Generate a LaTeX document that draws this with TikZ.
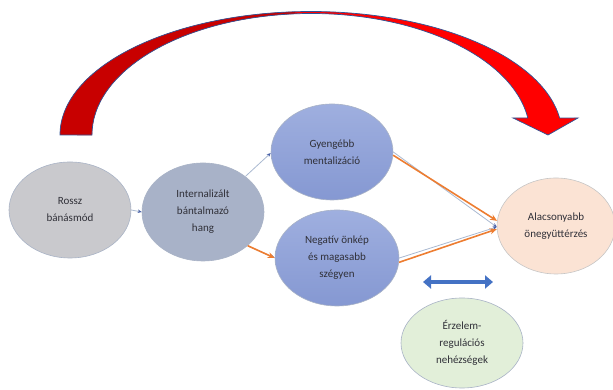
\documentclass[tikz,border=0pt]{standalone}
\usepackage{fontspec}
\setmainfont{Carlito}
\usetikzlibrary{shapes.geometric,arrows.meta}
\definecolor{txt}{HTML}{303038}
\definecolor{edgeg}{HTML}{A9B3C6}
\definecolor{rossfill}{HTML}{C9C9CD}
\definecolor{intfill}{HTML}{A8B2C8}
\definecolor{bluetop}{HTML}{9FAFDF}
\definecolor{bluebot}{HTML}{8598D2}
\definecolor{peach}{HTML}{FBE3D4}
\definecolor{lgreen}{HTML}{E2EFD9}
\definecolor{orangeA}{HTML}{ED7D31}
\definecolor{thinline}{HTML}{A9B8D0}
\definecolor{tipblue}{HTML}{4A62A8}
\definecolor{dblue}{HTML}{4472C4}
\definecolor{redL}{HTML}{C80000}
\definecolor{redR}{HTML}{FF0000}
\definecolor{outl}{HTML}{2F5597}
\tikzset{
  bubble/.style={ellipse, draw=edgeg, line width=0.6pt, inner sep=0pt, align=center,
    text=txt, font=\fontsize{11}{17}\selectfont},
  orangearrow/.style={draw=orangeA, line width=1.6pt, -{Stealth[length=7pt,width=6pt]}},
  thinarrow/.style={draw=thinline, line width=0.8pt, -{Stealth[length=4pt,width=3.5pt,color=tipblue]}},
}
\begin{document}
\begin{tikzpicture}[x=1pt,y=1pt]
\useasboundingbox (0,0) rectangle (613,390);
% big curved red arrow
\def\redpath{(60,255) arc[start angle=180,end angle=7.9,x radius=251,y radius=123.5]
  -- (578,272) -- (548,255) -- (513,272) -- (527.8,272)
  arc[start angle=8.05,end angle=180,x radius=219,y radius=121.5] -- cycle}
\fill[redR] \redpath;
\begin{scope}
  \clip (0,0) rectangle (295,390);
  \fill[redL] \redpath;
\end{scope}
\draw[outl, line width=0.7pt, line join=miter] \redpath;

% nodes
\node[bubble, fill=rossfill, minimum width=122pt, minimum height=96pt] (rossz) at (70,180) {Rossz\\bánásmód};
\node[bubble, fill=intfill, minimum width=122pt, minimum height=98pt] (intern) at (203,178) {Internalizált\\bántalmazó\\hang};
\node[bubble, top color=bluetop, bottom color=bluebot, minimum width=122pt, minimum height=96pt] (gyenge) at (332,238) {Gyengébb\\mentalizáció};
\node[bubble, top color=bluetop, bottom color=bluebot, minimum width=124pt, minimum height=96pt] (negativ) at (337,132) {Negatív önkép\\és magasabb\\szégyen};
\node[bubble, draw=gray!45, fill=peach, minimum width=118pt, minimum height=96pt] (alacs) at (556,164) {Alacsonyabb\\önegyüttérzés};
\node[bubble, fill=lgreen, minimum width=122pt, minimum height=90pt] (erz) at (462,47) {Érzelem-\\regulációs\\nehézségek};

% connectors
\draw[thinarrow] (rossz.east) -- (intern.west);
\draw[thinarrow] (intern.40) -- (gyenge.181);
\draw[thinarrow] (intern.-37) -- (negativ.180);
\draw[orangearrow] (intern.-37) -- (negativ.180);
\draw[thinarrow] (gyenge.0) -- (alacs.181);
\draw[orangearrow] (gyenge.-3) -- (alacs.175);
\draw[thinarrow] (negativ.0) -- (alacs.181);
\draw[orangearrow] (negativ.-4) -- (alacs.183);

% double arrow
\coordinate (da1) at (423,108);
\coordinate (da2) at (493,108);
\draw[dblue, line width=4.5pt, {Triangle[width=13pt,length=8pt]}-{Triangle[width=13pt,length=8pt]}] (da1) -- (da2);
\end{tikzpicture}
\end{document}
